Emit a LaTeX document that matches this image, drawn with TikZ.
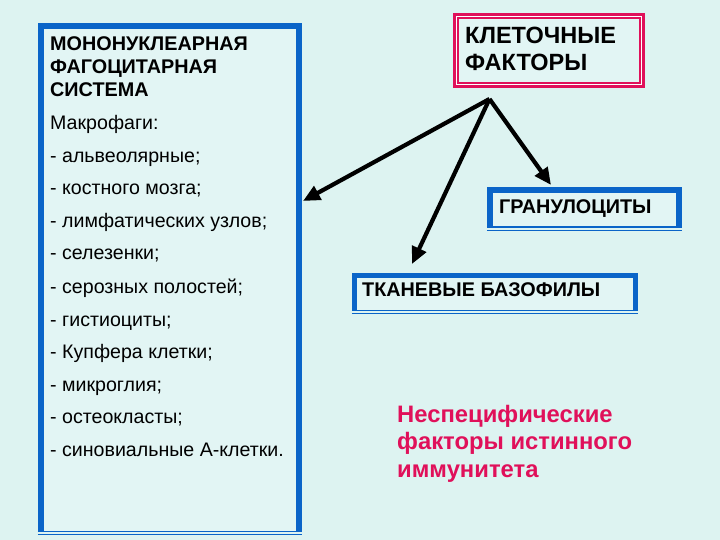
\documentclass[tikz,border=0pt]{standalone}
\usepackage{fontspec}
\setmainfont{Liberation Sans}
\usetikzlibrary{arrows.meta}
\definecolor{bgc}{HTML}{DDF3F1}
\definecolor{boxfill}{HTML}{E2F5F4}
\definecolor{boxblue}{HTML}{0A64C8}
\definecolor{pinkc}{HTML}{E0105A}
\begin{document}
\begin{tikzpicture}[x=1bp,y=-1bp,
  boxbody/.style={fill=boxfill, draw=none, inner sep=0pt},
  thickedge/.style={draw=boxblue, line width=#1, line cap=butt, line join=miter},
  thinedge/.style={draw=boxblue, line width=1.4bp},
  txt/.style={anchor=base west, inner sep=0pt, text=black},
  listitem/.style={txt, font=\fontsize{19.6bp}{23bp}\selectfont},
  headtxt/.style={txt, font=\fontsize{19.8bp}{23bp}\selectfont\bfseries},
  bigtxt/.style={txt, font=\fontsize{23.5bp}{27bp}\selectfont\bfseries},
  pinktxt/.style={txt, text=pinkc, font=\fontsize{23.8bp}{27bp}\selectfont\bfseries},
  arr/.style={draw=black, line width=4.2bp, -{Triangle[length=17bp,width=15bp]}}]
\fill[bgc] (0,0) rectangle (720,540);
\useasboundingbox (0,0) rectangle (720,540);

% left box
\node[boxbody, minimum width=258bp, minimum height=506bp] (mps) at (170,279) {};
\draw[thickedge=6.5bp] (mps.south west) -- (mps.north west) -- (mps.north east) -- (mps.south east);
\draw[thinedge] ([xshift=-3bp,yshift=0.5bp]mps.south west) -- ([xshift=3bp,yshift=0.5bp]mps.south east);
\draw[thinedge] ([xshift=-3bp,yshift=-2.5bp]mps.south west) -- ([xshift=3bp,yshift=-2.5bp]mps.south east);

% pink box
\node[fill=boxfill, draw=pinkc, line width=6bp, minimum width=186bp, minimum height=69bp, inner sep=0pt] (kf) at (549,50.5) {};
\draw[white, line width=1bp] ([xshift=3.5bp,yshift=3.5bp]kf.south west) rectangle ([xshift=-3.5bp,yshift=-3.5bp]kf.north east);

% granulocytes box
\node[boxbody, minimum width=189bp, minimum height=37bp] (gr) at (584.5,208.5) {};
\draw[thickedge=6bp] (gr.south west) -- (gr.north west) -- (gr.north east) -- (gr.south east);
\draw[thinedge] ([xshift=-3bp,yshift=0bp]gr.south west) -- ([xshift=3bp,yshift=0bp]gr.south east);
\draw[thinedge] ([xshift=-3bp,yshift=-3.3bp]gr.south west) -- ([xshift=3bp,yshift=-3.3bp]gr.south east);

% tissue basophils box
\node[boxbody, minimum width=281bp, minimum height=34.5bp] (tb) at (495,292.75) {};
\draw[thickedge=5bp] (tb.south west) -- (tb.north west) -- (tb.north east) -- (tb.south east);
\draw[thinedge] ([xshift=-2.5bp,yshift=0bp]tb.south west) -- ([xshift=2.5bp,yshift=0bp]tb.south east);
\draw[thinedge] ([xshift=-2.5bp,yshift=-3.3bp]tb.south west) -- ([xshift=2.5bp,yshift=-3.3bp]tb.south east);

% texts in left box
\node[headtxt] (h1) at (50,50.5) {МОНОНУКЛЕАРНАЯ};
\node[headtxt] (h2) at (50,73.5) {ФАГОЦИТАРНАЯ};
\node[headtxt] (h3) at (50,97) {СИСТЕМА};
\node[listitem] (l0) at (50,130) {Макрофаги:};
\node[listitem] (l1) at (50,162.5) {- альвеолярные;};
\node[listitem] (l2) at (50,195) {- костного мозга;};
\node[listitem] (l3) at (50,227.5) {- лимфатических узлов;};
\node[listitem] (l4) at (50,260) {- селезенки;};
\node[listitem] (l5) at (50,293) {- серозных полостей;};
\node[listitem] (l6) at (50,326) {- гистиоциты;};
\node[listitem] (l7) at (50,358.5) {- Купфера клетки;};
\node[listitem] (l8) at (50,391) {- микроглия;};
\node[listitem] (l9) at (50,423) {- остеокласты;};
\node[listitem] (l10) at (50,456) {- синовиальные А-клетки.};

% other texts
\node[bigtxt] (k1) at (465,43.3) {КЛЕТОЧНЫЕ};
\node[bigtxt] (k2) at (465,70.5) {ФАКТОРЫ};
\node[headtxt] (g1) at (499,214) {ГРАНУЛОЦИТЫ};
\node[headtxt] (t1) at (362,296) {ТКАНЕВЫЕ БАЗОФИЛЫ};
\node[pinktxt] (p1) at (397,422) {Неспецифические};
\node[pinktxt] (p2) at (397,449.5) {факторы истинного};
\node[pinktxt] (p3) at (397,477) {иммунитета};

% arrows
\coordinate (src) at (489.5,99);
\coordinate (e1) at (303,201);
\coordinate (e2) at (412,264);
\coordinate (e3) at (551,185);
\draw[arr] (src) -- (e1);
\draw[arr] (src) -- (e2);
\draw[arr] (src) -- (e3);
\end{tikzpicture}
\end{document}
